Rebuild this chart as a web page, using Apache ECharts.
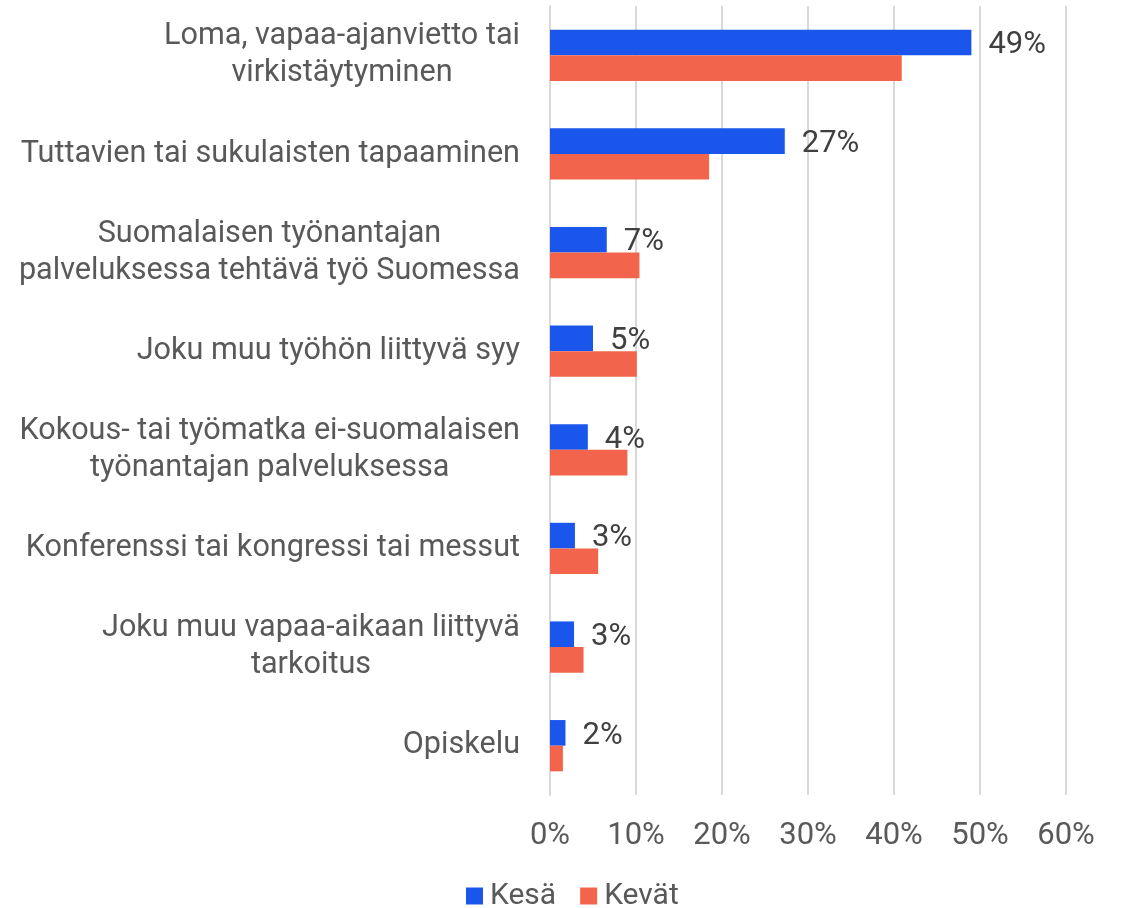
<!DOCTYPE html>
<html>
<head>
<meta charset="utf-8">
<script src="https://cdn.jsdelivr.net/npm/echarts@6/dist/echarts.min.js"></script>
<style>
html,body{margin:0;padding:0;background:#fff;}
#chart{width:1125px;height:908px;}
</style>
</head>
<body>
<div id="chart"></div>
<script>
var categories = [
  "Loma, vapaa-ajanvietto tai\nvirkistäytyminen",
  "Tuttavien tai sukulaisten tapaaminen",
  "Suomalaisen työnantajan\npalveluksessa tehtävä työ Suomessa",
  "Joku muu työhön liittyvä syy",
  "Kokous- tai työmatka ei-suomalaisen\ntyönantajan palveluksessa",
  "Konferenssi tai kongressi tai messut",
  "Joku muu vapaa-aikaan liittyvä\ntarkoitus",
  "Opiskelu"
];
var seriesNames = ["Kesä", "Kevät"];
var kesa = [49.0, 27.3, 6.6, 5.0, 4.4, 2.9, 2.8, 1.8];
var kevat = [40.9, 18.5, 10.4, 10.1, 9.0, 5.6, 3.9, 1.5];
var xTicks = [0, 10, 20, 30, 40, 50, 60];

var chart = echarts.init(document.getElementById('chart'));
var FONT = 'Roboto';
chart.setOption({
  animation: false,
  backgroundColor: '#ffffff',
  grid: { left: 550, right: 59, top: 6, bottom: 113, containLabel: false },
  legend: {
    data: seriesNames,
    left: 461,
    top: 876,
    icon: 'rect',
    itemWidth: 17,
    itemHeight: 17,
    itemGap: 24,
    textStyle: { fontFamily: FONT, fontSize: 30, color: '#595959', padding: [0,0,0,2] }
  },
  xAxis: {
    type: 'value',
    min: xTicks[0],
    max: xTicks[xTicks.length - 1],
    interval: 10,
    axisLine: { show: false },
    axisTick: { show: false },
    splitLine: { show: true, lineStyle: { color: '#d9d9d9', width: 2 } },
    axisLabel: {
      formatter: function (v) { return v + '%'; },
      fontFamily: FONT, fontSize: 31, color: '#595959', margin: 26
    }
  },
  yAxis: {
    type: 'category',
    inverse: true,
    data: categories,
    axisLine: { show: true, lineStyle: { color: '#d9d9d9', width: 2 } },
    axisTick: { show: false },
    axisLabel: {
      margin: 30,
      formatter: function (v) {
        return v.split('\n').map(function (l) { return '{c|' + l + '}'; }).join('\n');
      },
      rich: {
        c: { align: 'center', fontFamily: FONT, fontSize: 30.6, lineHeight: 37, color: '#595959' }
      }
    }
  },
  series: [
    {
      name: seriesNames[0],
      type: 'bar',
      data: kesa,
      barWidth: '26%',
      barGap: '0%',
      itemStyle: { color: '#1a56ec' },
      label: {
        show: true,
        position: 'right',
        distance: 17,
        offset: [0, 3],
        formatter: function (p) { return Math.round(p.value) + '%'; },
        fontFamily: FONT, fontSize: 31, color: '#404040'
      }
    },
    {
      name: seriesNames[1],
      type: 'bar',
      data: kevat,
      barWidth: '26%',
      barGap: '0%',
      itemStyle: { color: '#f2654c' }
    }
  ]
});
</script>
</body>
</html>
